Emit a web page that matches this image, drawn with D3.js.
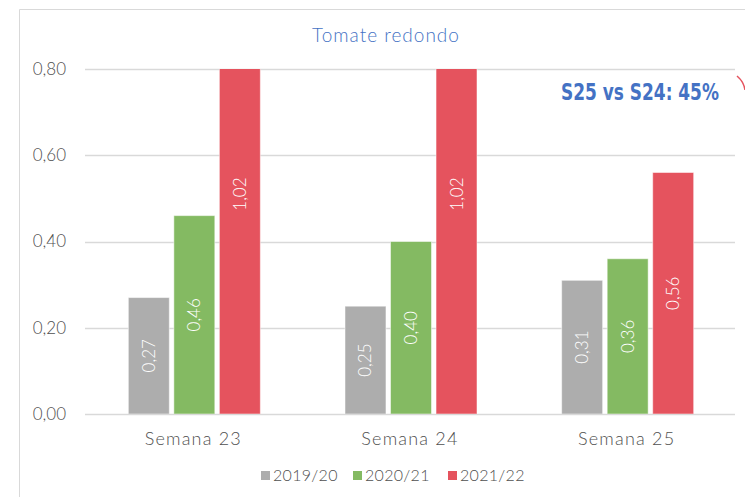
<!DOCTYPE html>
<html><head><meta charset="utf-8">
<script src="https://cdn.jsdelivr.net/npm/d3@7/dist/d3.min.js"></script>
<style>body{margin:0;background:#fff}svg{display:block}text{font-family:"Lato","Open Sans",sans-serif;font-weight:300}</style>
</head><body><svg id="c" width="745" height="497"></svg>
<script>
const categories = ["Semana 23", "Semana 24", "Semana 25"];
const seriesNames = ["2019/20", "2020/21", "2021/22"];
const s2019 = [0.27, 0.25, 0.31];
const s2020 = [0.46, 0.40, 0.36];
const s2021 = [1.02, 1.02, 0.56];
const yTicks = [0, 0.2, 0.4, 0.6, 0.8];
const colors = ["#ADADAD", "#84BA62", "#E5535E"];
const title = "Tomate redondo";
const note = "S25 vs S24: 45%";

const series = [s2019, s2020, s2021];
const svg = d3.select("#c");
const fmt = v => d3.format(".2f")(v).replace(".", ",");
const textCol = "#4f4f4f";

// chart frame
svg.append("path").attr("d","M19.5,497 V9.5 H745").attr("fill","none").attr("stroke","#d9d9d9");

const x0 = d3.scaleBand().domain(categories).range([85, 735]);
const y = d3.scaleLinear().domain([0, 0.8]).range([414, 69]);
const x1 = d3.scaleBand().domain(seriesNames).range([-65, 67]).paddingInner(0.1);

// gridlines
svg.append("g").selectAll("line").data(yTicks).join("line")
  .attr("x1", 85).attr("x2", 735)
  .attr("y1", d => Math.round(y(d)) + 0.5).attr("y2", d => Math.round(y(d)) + 0.5)
  .attr("stroke", "#d9d9d9").attr("stroke-width", 1.3);

// y axis
const ya = svg.append("g").attr("transform", "translate(66,0)")
  .call(d3.axisLeft(y).tickValues(yTicks).tickFormat(fmt).tickSize(0).tickPadding(0));
ya.select(".domain").remove();
ya.selectAll("text").attr("font-size", 17).attr("fill", textCol).attr("font-family", "Lato");

// bars
svg.append("clipPath").attr("id","pc").append("rect")
  .attr("x", 85).attr("y", y(0.8)).attr("width", 650).attr("height", y(0) - y(0.8));
const groups = svg.append("g").attr("clip-path","url(#pc)").selectAll("g").data(categories).join("g")
  .attr("transform", c => `translate(${x0(c) + x0.bandwidth()/2},0)`);
const cells = (ci) => seriesNames.map((s, si) => ({s, si, v: series[si][ci]}));
groups.each(function(c, ci){
  d3.select(this).selectAll("rect").data(cells(ci)).join("rect")
    .attr("x", d => x1(d.s)).attr("width", x1.bandwidth())
    .attr("y", d => y(d.v)).attr("height", d => y(0) - y(d.v))
    .attr("fill", d => colors[d.si]).attr("stroke", "#fff").attr("stroke-opacity", 0.5).attr("stroke-width", 1);
});
const labels = svg.append("g").selectAll("g").data(categories).join("g")
  .attr("transform", c => `translate(${x0(c) + x0.bandwidth()/2},0)`);
labels.each(function(c, ci){
  d3.select(this).selectAll("text").data(cells(ci)).join("text")
    .attr("transform", d => `translate(${x1(d.s) + x1.bandwidth()/2 + 6},${(y(d.v) + y(0))/2}) rotate(-90)`)
    .attr("text-anchor", "middle").attr("fill", "#fff").attr("font-size", 17)
    .text(d => fmt(d.v));
});

// x axis
const xa = svg.append("g").attr("transform", "translate(0,445)")
  .call(d3.axisBottom(x0).tickSize(0).tickPadding(0));
xa.select(".domain").remove();
xa.selectAll("text").attr("font-size", 18).attr("fill", textCol).attr("dy", 0)
  .attr("letter-spacing", 1.2).attr("font-family","Lato");

// title
svg.append("text").attr("x", 386).attr("y", 42).attr("text-anchor", "middle")
  .attr("fill", "#4472C4").attr("font-size", 19).attr("letter-spacing", 1).text(title);

// note
svg.append("text").attr("transform", "translate(640,100) scale(0.92,1.08)").attr("text-anchor", "middle")
  .attr("fill", "#4472C4").attr("font-size", 20.5).style("font-weight", "700")
  .style("font-family", "'DejaVu Sans Condensed','DejaVu Sans',sans-serif").style("font-stretch","condensed").text(note);

// red arc fragment at right edge
svg.append("path").attr("d", "M737,76 Q744,82 745,90").attr("fill","none").attr("stroke","#E5535E").attr("stroke-width",1.5);

// legend
const leg = svg.append("g").attr("transform", "translate(261,481)");
const lx = [0, 92, 187];
seriesNames.forEach((s, i) => {
  const g = leg.append("g").attr("transform", `translate(${lx[i]},0)`);
  g.append("rect").attr("x", 0).attr("y", -10).attr("width", 9).attr("height", 9).attr("fill", colors[i]);
  g.append("text").attr("x", 12).attr("y", 0).attr("font-size", 16).attr("fill", textCol).attr("letter-spacing", 0.3).text(s);
});
</script></body></html>
